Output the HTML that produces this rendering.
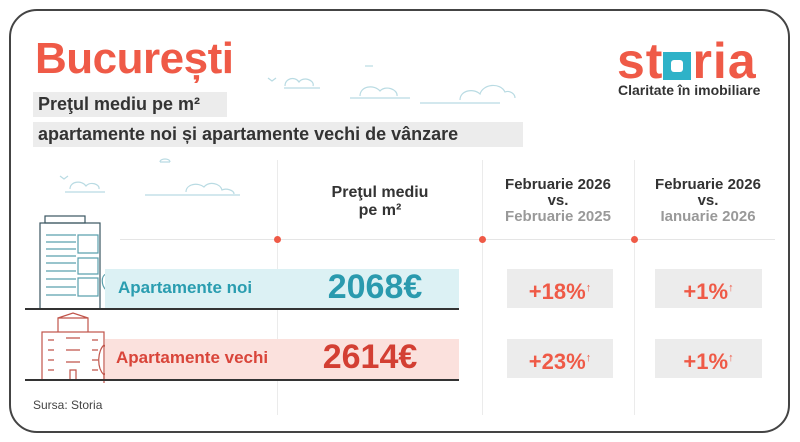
<!DOCTYPE html>
<html><head><meta charset="utf-8"><style>
*{margin:0;padding:0;box-sizing:border-box}
body{width:800px;height:442px;background:#fff;position:relative;overflow:hidden;font-family:"Liberation Sans",sans-serif;font-weight:bold}
.a{position:absolute}
.frame{left:9px;top:9px;width:781px;height:424px;border:2px solid #444;border-radius:28px}
.sub{background:#ececec;color:#333;font-size:18px;height:25px;line-height:25px;padding-left:5px}
.vl{width:1px;background:#ebebeb;top:160px;height:255px}
.dot{width:7px;height:7px;border-radius:50%;background:#ef5a47;top:236px}
.hd{color:#333;font-size:15px;text-align:center;line-height:16px}
.pb{background:#ececec;color:#ef5a47;font-size:22px;text-align:center;line-height:39px;height:39px}
.pb sup{font-size:11px;vertical-align:8px}
</style></head><body>
<div class="a frame"></div>
<div class="a" style="left:35px;top:34px;font-size:44px;color:#ef5a47;letter-spacing:-0.5px">București</div>
<div class="a sub" style="left:33px;top:92px;width:194px">Preţul mediu pe m²</div>
<div class="a sub" style="left:33px;top:122px;width:490px">apartamente noi și apartamente vechi de vânzare</div>

<div class="a" style="left:617px;top:32px;font-size:50px;color:#ef5a47;letter-spacing:1px">st<span style="display:inline-block;width:28px;height:28px;background:#2eb2c8;vertical-align:-2px;position:relative;margin-right:1px"><span style="position:absolute;left:8px;top:8px;width:12px;height:12px;background:#fff;border-radius:3px"></span></span>ria</div>
<div class="a" style="left:618px;top:82px;font-size:14px;color:#333">Claritate în imobiliare</div>

<svg class="a" style="left:0;top:0" width="800" height="442" fill="none" stroke="#b9dbe3" stroke-width="1.2">
<path d="M284 88h36M285 86c0-8 10-10 14-4c4-6 16-2 14 4"/>
<path d="M350 98h60M360 96c0-10 14-12 20-5c5-6 18-2 17 5"/>
<path d="M420 103h80M460 100c0-10 14-12 20-6c3-10 20-12 25-2c5-2 10 2 10 6"/>
<path d="M365 66h8"/><path d="M268 78l4 3l4-3"/>
<path d="M65 192h40M70 189c0-8 12-9 16-3c4-5 14-2 13 3"/>
<path d="M145 195h95M186 192c0-8 12-10 18-5c5-6 16-4 18 3c4-2 12 0 12 4"/>
<path d="M160 162h10M160 162c0-4 10-4 10 0"/><path d="M60 176l4 3l4-3"/>
</svg>

<svg class="a" style="left:20px;top:210px" width="90" height="175" fill="none" stroke="#3a5560" stroke-width="1.2">
<rect x="20" y="13" width="60" height="86"/><rect x="25" y="6" width="40" height="7"/>
<g stroke="#5aa0ad"><path d="M26 25h30M26 32h30M26 39h30M26 46h30M26 53h30M26 61h30M26 69h30M26 77h30M26 85h30"/>
<path d="M58 25h20v18h-20zM58 48h20v16h-20zM58 68h20v18h-20z"/></g>
<path d="M86 90v-10c-5-5-5-14 0-16c5 2 5 12 0 16" stroke="#5aa0ad"/>
<rect x="22" y="122" width="62" height="48" stroke="#c0544a"/><path d="M38 122v-14h30v14M38 108l15-5l15 5" stroke="#c0544a"/>
<g stroke="#c0544a"><path d="M28 130h6M28 140h6M28 150h6M28 160h6M72 130h6M72 140h6M72 150h6M72 160h6M46 128h14M46 140h14M46 152h14M50 160h6v10h-6z"/></g>
<path d="M84 165c-8-8-6-25 0-30c6 5 8 22 0 30v8" stroke="#c0544a"/>
</svg>

<div class="a vl" style="left:277px"></div>
<div class="a vl" style="left:482px"></div>
<div class="a vl" style="left:634px"></div>
<div class="a" style="left:120px;top:239px;width:655px;height:1px;background:#e5e5e5"></div>
<div class="a dot" style="left:274px"></div>
<div class="a dot" style="left:479px"></div>
<div class="a dot" style="left:631px"></div>

<div class="a hd" style="left:300px;top:184px;width:160px;font-size:16px;line-height:18px">Preţul mediu<br>pe m²</div>
<div class="a hd" style="left:488px;top:177px;width:140px">Februarie 2026<br>vs.<br><span style="color:#999">Februarie 2025</span></div>
<div class="a hd" style="left:638px;top:177px;width:140px">Februarie 2026<br>vs.<br><span style="color:#999">Ianuarie 2026</span></div>

<div class="a" style="left:105px;top:269px;width:354px;height:39px;background:#dcf1f4"></div>
<div class="a" style="left:25px;top:308px;width:434px;height:1.5px;background:#333"></div>
<div class="a" style="left:118px;top:278px;font-size:17px;color:#2a9db0">Apartamente noi</div>
<div class="a" style="left:300px;top:268px;width:150px;text-align:center;font-size:34px;color:#2a9aae">2068€</div>

<div class="a" style="left:105px;top:339px;width:354px;height:40px;background:#fbe1dd"></div>
<div class="a" style="left:25px;top:379px;width:434px;height:1.5px;background:#333"></div>
<div class="a" style="left:116px;top:348px;font-size:17px;color:#d9453a">Apartamente vechi</div>
<div class="a" style="left:295px;top:338px;width:150px;text-align:center;font-size:34px;color:#d33f33">2614€</div>

<div class="a pb" style="left:507px;top:269px;width:106px">+18%<sup>↑</sup></div>
<div class="a pb" style="left:655px;top:269px;width:107px">+1%<sup>↑</sup></div>
<div class="a pb" style="left:507px;top:339px;width:106px">+23%<sup>↑</sup></div>
<div class="a pb" style="left:655px;top:339px;width:107px">+1%<sup>↑</sup></div>

<div class="a" style="left:33px;top:398px;font-size:12px;font-weight:normal;color:#444">Sursa: Storia</div>
</body></html>
